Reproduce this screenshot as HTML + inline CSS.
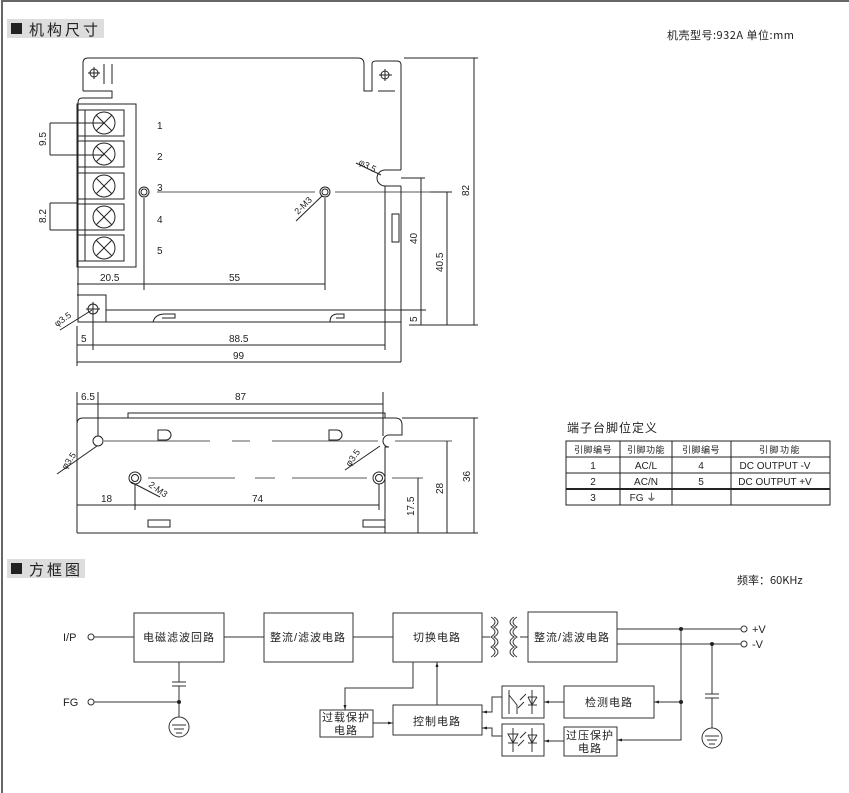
<!DOCTYPE html>
<html><head><meta charset="utf-8"><style>
body{margin:0;background:#fff}
svg{display:block}
text{font-family:"Liberation Sans","Noto Sans CJK SC",sans-serif;fill:#222}
.c{font-family:"Noto Sans CJK SC","WenQuanYi Zen Hei",sans-serif}
</style></head><body>
<svg width="849" height="793" viewBox="0 0 849 793" xmlns="http://www.w3.org/2000/svg">
<defs>
<marker id="a" viewBox="0 0 10 10" refX="10" refY="5" markerWidth="5" markerHeight="5" orient="auto-start-reverse"><path d="M0,2 L10,5 L0,8z" fill="#222"/></marker>
</defs>
<rect width="849" height="793" fill="#fff"/>
<path d="M2,793 V1 H849" fill="none" stroke="#666" stroke-width="2"/>

<!-- header 1 -->
<rect x="7" y="19" width="97" height="19" fill="#ddd"/>
<rect x="11" y="23" width="11" height="11" fill="#222"/>
<text x="29" y="35" class="c" font-size="15" fill="#444" letter-spacing="3">机构尺寸</text>
<text x="667" y="39" class="c" font-size="11" letter-spacing="0.5">机壳型号:932A 单位:mm</text>

<g fill="none" stroke="#222" stroke-width="1">
<!-- top view outline -->
<path d="M83,91 V63 Q83,58 88,58 H358 Q364,58 364,64 V91 H372 V64 Q372,61 376,61 H397 Q401,61 401,65 V170"/>
<path d="M83,91 H112 V98 H82 Q78,98 78,103 V322 H401"/>
<path d="M401,186 V362"/>
<path d="M385,186 V348"/>
<path d="M401,170 H385 A8,8 0 0 0 385,186 H401"/>
<path d="M77,295 H106 V322"/>
<path d="M106,310 H426"/>
<circle cx="94" cy="73" r="4"/><path d="M88,73 H100 M94,67 V79 M104,64 V84 M112,64 V84"/>
<circle cx="385" cy="75" r="4"/><path d="M379,75 H392 M385,69 V81 M378,91 H395"/>
<rect x="392" y="214" width="7" height="28"/>
<path d="M153,322 Q155,314 165,314 H175 V318 H162" /><path d="M330,322 Q330,314 338,314 H344 V318 H336"/>
<!-- terminal block -->
<rect x="77" y="104" width="59" height="163"/>
<path d="M85,110 V261"/>
<g id="cells">
<rect x="77" y="110" width="47" height="26"/><circle cx="104" cy="123" r="11"/><path d="M96,115 L112,131 M112,115 L96,131"/>
</g>
<use href="#cells" y="31"/><use href="#cells" y="63"/><use href="#cells" y="94"/><use href="#cells" y="125"/>
<circle cx="144" cy="192" r="5"/><circle cx="144" cy="192" r="3"/>
<circle cx="325" cy="192" r="5"/><circle cx="325" cy="192" r="3"/>
<path d="M157,192 H315 M335,192 H452" stroke-width="0.8"/>
<circle cx="93" cy="309" r="5"/><path d="M86,309 H100 M93,302 V316"/>
<path d="M144,198 V290 M325,198 V290 M77,284 H325"/>
<path d="M93,316 V350 M385,330 V350 M77,345 H385 M77,326 V366 M77,362 H401"/>
<path d="M401,178 H425 M421,178 V325 M409,325 H478 M447,192 V325 M430,192 H452 M474,58 V325 M404,58 H478 M414,310 H426"/>
<path d="M50,123 V155 M50,123 H104 M50,155 H104 M50,203 V230 M50,203 H77 M50,230 H77"/>
<path d="M322,196 L296,221 M381,175 L356,163 M92,310 L60,330"/>

<!-- side view -->
<path d="M77,533 V424 Q77,418 83,418 H395 Q402,418 402,425 V435 H389 A6,6 0 0 0 389,447 H385 V533 H77 M128,418 V413 H385 V418"/>
<circle cx="98" cy="441" r="5"/>
<path d="M104,441 H210 M232,441 H250 M272,441 H378 M395,441 H452" stroke-width="0.8"/>
<path d="M158,430 H166 A5,5 0 0 1 166,440 H158Z M329,430 H337 A5,5 0 0 1 337,440 H329Z"/>
<circle cx="135" cy="478" r="6"/><circle cx="135" cy="478" r="3.5"/>
<circle cx="379" cy="478" r="6"/><circle cx="379" cy="478" r="3.5"/>
<path d="M148,478 H235 M255,478 H275 M292,478 H367 M392,478 H423" stroke-width="0.8"/>
<rect x="148" y="520" width="22" height="7"/><rect x="363" y="520" width="22" height="7"/>
<path d="M77,392 V430 M98,392 V436 M383,392 V436 M77,404 H383"/>
<path d="M77,505 H379 M135,484 V510 M379,484 V510"/>
<path d="M418,478 V533 M385,533 H478 M447,441 V533 M474,418 V533 M402,418 H478"/>
<path d="M97,446 L57,474 M131,482 L160,497 M380,446 L345,470"/>

<!-- table -->
<path d="M566,441 H830 V505 H566Z M566,457 H830 M566,473 H830 M566,489 H830 M620,441 V505 M672,441 V505 M731,441 V505"/>
<path d="M566,489 H830" stroke-width="2"/>
</g>

<g font-size="10">
<text x="157" y="129">1</text><text x="157" y="160">2</text><text x="157" y="191">3</text><text x="157" y="223">4</text><text x="157" y="254">5</text>
<text x="100" y="281">20.5</text><text x="229" y="281">55</text>
<text x="81" y="342">5</text><text x="229" y="342">88.5</text><text x="233" y="359">99</text>
<text transform="translate(46,146) rotate(-90)">9.5</text>
<text transform="translate(46,223) rotate(-90)">8.2</text>
<text transform="translate(417,244) rotate(-90)">40</text>
<text transform="translate(443,272) rotate(-90)">40.5</text>
<text transform="translate(469,196) rotate(-90)">82</text>
<text transform="translate(417,322) rotate(-90)">5</text>
<text transform="translate(298,215) rotate(-45)" font-size="9">2-M3</text>
<text transform="translate(358,164) rotate(28)" font-size="9">φ3.5</text>
<text transform="translate(57,327) rotate(-35)" font-size="9">φ3.5</text>
<text x="81" y="400">6.5</text><text x="235" y="400">87</text>
<text x="101" y="502">18</text><text x="252" y="502">74</text>
<text transform="translate(414,516) rotate(-90)">17.5</text>
<text transform="translate(443,494) rotate(-90)">28</text>
<text transform="translate(470,482) rotate(-90)">36</text>
<text transform="translate(66,470) rotate(-55)" font-size="9">φ3.5</text>
<text transform="translate(350,467) rotate(-55)" font-size="9">φ3.5</text>
<text transform="translate(148,486) rotate(35)" font-size="9">2-M3</text>
</g>
<text x="567" y="432" class="c" font-size="12" fill="#444" letter-spacing="1">端子台脚位定义</text>
<g font-size="10" text-anchor="middle">
<text x="593" y="453" class="c" font-size="9" letter-spacing="0.5">引脚编号</text><text x="646" y="453" class="c" font-size="9" letter-spacing="0.5">引脚功能</text><text x="701" y="453" class="c" font-size="9" letter-spacing="0.5">引脚编号</text><text x="780" y="453" class="c" font-size="9" letter-spacing="1.5">引脚功能</text>
<text x="593" y="469">1</text><text x="646" y="469">AC/L</text><text x="701" y="469">4</text><text x="775" y="469">DC OUTPUT -V</text>
<text x="593" y="485">2</text><text x="646" y="485">AC/N</text><text x="701" y="485">5</text><text x="775" y="485">DC OUTPUT +V</text>
<text x="593" y="501">3</text><text x="643" y="501">FG ⏚</text>
</g>

<!-- header 2 -->
<rect x="7" y="559" width="78" height="19" fill="#ddd"/>
<rect x="11" y="563" width="11" height="11" fill="#222"/>
<text x="29" y="575" class="c" font-size="15" fill="#444" letter-spacing="3">方框图</text>
<text x="737" y="584" class="c" font-size="11">频率：60KHz</text>

<!-- block diagram -->
<g fill="none" stroke="#333" stroke-width="1">
<rect x="134" y="613" width="90" height="49"/>
<rect x="264" y="613" width="89" height="49"/>
<rect x="393" y="613" width="89" height="49"/>
<rect x="528" y="612" width="89" height="50"/>
<rect x="320" y="710" width="53" height="27"/>
<rect x="393" y="705" width="89" height="30"/>
<rect x="502" y="686" width="42" height="32"/>
<rect x="502" y="724" width="42" height="32"/>
<rect x="564" y="686" width="90" height="32"/>
<rect x="564" y="727" width="53" height="29"/>
<circle cx="91" cy="637" r="3"/><circle cx="91" cy="702" r="3"/>
<path d="M94,637 H134 M224,637 H264 M353,637 H393 M482,637 H490 M520,637 H528"/>
<path d="M94,702 H179 M179,662 V682 M172,682 H186 M172,686 H186 M179,686 V717"/>
<circle cx="179" cy="727" r="10"/><path d="M172,725 H186 M174,729 H184 M176,733 H182"/>
<path d="M491,617 q8,5 0,10 q8,5 0,10 q8,5 0,10 q8,5 0,10 M494,617 q8,5 0,10 q8,5 0,10 q8,5 0,10 q8,5 0,10 M517,617 q-8,5 0,10 q-8,5 0,10 q-8,5 0,10 q-8,5 0,10 M514,617 q-8,5 0,10 q-8,5 0,10 q-8,5 0,10 q-8,5 0,10"/>
<path d="M617,629 H741 M617,644 H741"/>
<circle cx="744" cy="629" r="3"/><circle cx="744" cy="644" r="3"/>
<path d="M681,629 V740 H617 M681,702 H654 M712,644 V694 M705,694 H719 M705,698 H719 M712,698 V728"/>
<circle cx="712" cy="738" r="10"/><path d="M705,736 H719 M707,740 H717 M709,744 H715"/>
<path d="M413,662 V688 H345 V710" marker-end="url(#a)"/>
<path d="M437,705 V662" marker-end="url(#a)"/>
<path d="M373,723 H393" marker-end="url(#a)"/>
<path d="M564,702 H544" marker-end="url(#a)"/>
<path d="M564,741 H544" marker-end="url(#a)"/>
<path d="M654,702 H681" marker-start="url(#a)"/>
<path d="M617,740 H681" marker-start="url(#a)"/>
<path d="M502,697 H492 V712 H482" marker-end="url(#a)"/>
<path d="M502,736 H492 V728 H482" marker-end="url(#a)"/>
<path d="M509,690 V714 M509,695 L517,705 V714 M520,700 L526,694 M518,708 L524,702 M532,690 V714 M528,697 H537 M528,697 L532,705 L537,697 M528,705 H537"/>
<path d="M508,734 H518 L513,743Z M508,743 H518 M513,728 V752 M520,738 L526,732 M518,746 L524,740 M532,728 V752 M528,735 H537 M528,735 L532,743 L537,735 M528,743 H537"/>
</g>
<circle cx="179" cy="702" r="2" fill="#222"/>
<circle cx="681" cy="629" r="2" fill="#222"/><circle cx="681" cy="702" r="2" fill="#222"/><circle cx="712" cy="644" r="2" fill="#222"/>
<g font-size="11">
<text x="63" y="641">I/P</text><text x="63" y="706">FG</text>
<text x="752" y="633">+V</text><text x="752" y="648">-V</text>
</g>
<g class="c" font-size="11" text-anchor="middle" letter-spacing="1">
<text x="179" y="641">电磁滤波回路</text>
<text x="308" y="641">整流/滤波电路</text>
<text x="437" y="641">切换电路</text>
<text x="572" y="641">整流/滤波电路</text>
<text x="346" y="721">过载保护</text><text x="346" y="734">电路</text>
<text x="437" y="725">控制电路</text>
<text x="609" y="706">检测电路</text>
<text x="590" y="739">过压保护</text><text x="590" y="752">电路</text>
</g>
</svg>
</body></html>
